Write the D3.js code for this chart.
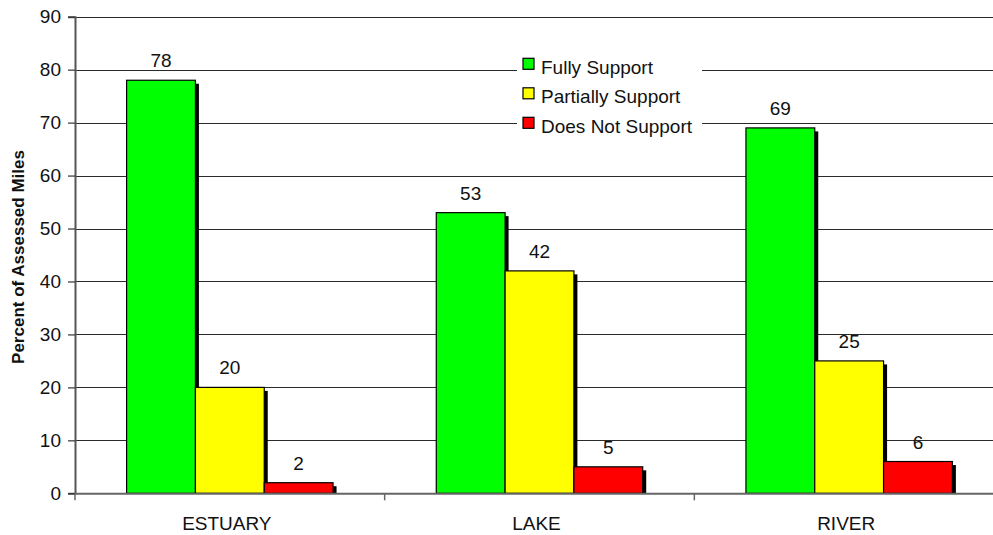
<!DOCTYPE html>
<html>
<head>
<meta charset="utf-8">
<script src="https://cdn.jsdelivr.net/npm/d3@7"></script>
<style>
  html, body { margin: 0; padding: 0; background: #fff; }
  svg { display: block; font-family: "Liberation Sans", Arial, sans-serif; }
</style>
</head>
<body>
<svg id="chart" width="993" height="535"></svg>
<script>
// Designated-use support by waterbody type (percent of assessed miles)
const categories = ["ESTUARY", "LAKE", "RIVER"];
const seriesNames = ["Fully Support", "Partially Support", "Does Not Support"];
const fullySupport = [78, 53, 69];
const partiallySupport = [20, 42, 25];
const doesNotSupport = [2, 5, 6];
const yTicks = [0, 10, 20, 30, 40, 50, 60, 70, 80, 90];
const seriesColors = ["#00ff00", "#ffff00", "#ff0000"];

const seriesValues = [fullySupport, partiallySupport, doesNotSupport];

const svg = d3.select("#chart");
const plotLeft = 75, plotRight = 1004, plotTop = 16.7, plotBottom = 493.3;

const y = d3.scaleLinear().domain([0, 90]).range([plotBottom, plotTop]);
const x0 = d3.scaleBand().domain(categories).range([plotLeft, plotRight]).padding(0);
const bw = x0.bandwidth();
const x1 = d3.scaleBand().domain(seriesNames).range([bw / 6, bw * 5 / 6]).padding(0);

// horizontal gridlines
svg.append("g")
  .selectAll("line")
  .data(yTicks.filter(d => d > 0))
  .join("line")
  .attr("x1", plotLeft).attr("x2", 993)
  .attr("y1", d => Math.round(y(d)) + 0.5).attr("y2", d => Math.round(y(d)) + 0.5)
  .attr("stroke", "#2a2a2a").attr("stroke-width", 1.2);

// legend panel sits over the gridlines
const legend = svg.append("g");
legend.append("rect")
  .attr("x", 517).attr("y", 50).attr("width", 185).attr("height", 90)
  .attr("fill", "#fff");

// bars with drop shadows, drawn in series order per group
const groups = svg.append("g").selectAll("g")
  .data(categories)
  .join("g")
  .attr("transform", d => `translate(${x0(d)},0)`);

groups.each(function (cat, ci) {
  const g = d3.select(this);
  seriesNames.forEach((s, si) => {
    const v = seriesValues[si][ci];
    const bx = x1(s), by = y(v), h = y(0) - y(v), w = x1.bandwidth();
    g.append("rect")
      .attr("x", bx + 3.5).attr("y", by + 3.5)
      .attr("width", w).attr("height", Math.max(0, h - 3.5))
      .attr("fill", "#000");
    g.append("rect")
      .attr("x", bx).attr("y", by)
      .attr("width", w).attr("height", h)
      .attr("fill", seriesColors[si])
      .attr("stroke", "#000").attr("stroke-width", 1.2);
    g.append("text")
      .attr("x", bx + w / 2).attr("y", by - 13)
      .attr("text-anchor", "middle")
      .attr("font-size", 19)
      .attr("fill", "#111")
      .text(v);
  });
});

// y axis
const yAxis = d3.axisLeft(y).tickValues(yTicks).tickSize(7).tickPadding(7).tickFormat(d3.format("d"));
const ya = svg.append("g").attr("transform", `translate(${plotLeft},0)`).call(yAxis);
ya.select(".domain").attr("stroke", "#555").attr("stroke-width", 2);
ya.selectAll(".tick line").attr("stroke", "#333").attr("stroke-width", 1.2);
ya.selectAll(".tick text").attr("font-size", 19).attr("fill", "#111")
  .attr("font-family", "'Liberation Sans', Arial, sans-serif");

// x axis baseline and category separators
const xa = svg.append("g");
xa.append("line")
  .attr("x1", plotLeft).attr("x2", 993)
  .attr("y1", plotBottom + 0.5).attr("y2", plotBottom + 0.5)
  .attr("stroke", "#666").attr("stroke-width", 2);
xa.selectAll("line.sep")
  .data(categories.map(c => x0(c)).concat([plotRight]))
  .join("line").attr("class", "sep")
  .attr("x1", d => d).attr("x2", d => d)
  .attr("y1", plotBottom).attr("y2", plotBottom + 7)
  .attr("stroke", "#666").attr("stroke-width", 1.5);
xa.selectAll("text")
  .data(categories)
  .join("text")
  .attr("x", d => x0(d) + bw / 2 - 3)
  .attr("y", 530)
  .attr("text-anchor", "middle")
  .attr("font-size", 19)
  .attr("fill", "#111")
  .text(d => d);

// y axis title
svg.append("text")
  .attr("transform", "translate(24,257) rotate(-90)")
  .attr("text-anchor", "middle")
  .attr("font-size", 17)
  .attr("font-weight", "bold")
  .attr("fill", "#111")
  .text("Percent of Assessed Miles");

// legend entries
const rows = legend.selectAll("g.row")
  .data(seriesNames)
  .join("g").attr("class", "row")
  .attr("transform", (d, i) => `translate(523,${58.3 + i * 29.5})`);
rows.append("rect")
  .attr("width", 11).attr("height", 11)
  .attr("fill", (d, i) => seriesColors[i])
  .attr("stroke", "#000").attr("stroke-width", 1.2);
rows.append("text")
  .attr("x", 18).attr("y", 15.5)
  .attr("font-size", 19)
  .attr("fill", "#111")
  .text(d => d);
</script>
</body>
</html>
